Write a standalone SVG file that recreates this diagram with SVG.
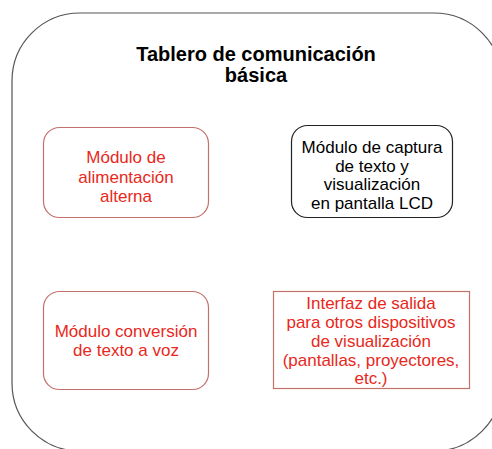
<svg xmlns="http://www.w3.org/2000/svg" width="492" height="449" viewBox="0 0 492 449">
<style>
  .t { font-family: "Liberation Sans", Arial, sans-serif; font-size: 17px; text-anchor: middle; }
  .red { fill: #e8281c; }
  .blk { fill: #000; }
  .title { font-family: "Liberation Sans", Arial, sans-serif; font-size: 20px; font-weight: bold; text-anchor: middle; fill: #000; }
  .rbox { fill: #fff; stroke: #c4716c; stroke-width: 1.2; }
  .kbox { fill: #fff; stroke: #222; stroke-width: 1.2; }
</style>
<rect width="492" height="449" fill="#fff"/>
<g id="board">
  <rect x="12" y="13" width="490" height="438" rx="68" ry="68" fill="none" stroke="#555" stroke-width="1.2"/>
  <text class="title" x="256" y="61">Tablero de comunicación</text>
  <text class="title" x="256" y="82">básica</text>
</g>
<g id="connectors"></g>
<g id="node-alimentacion">
  <rect class="rbox" x="43.5" y="127.5" width="165" height="90" rx="16"/>
  <text class="t red" x="126" y="163">Módulo de</text>
  <text class="t red" x="126" y="183">alimentación</text>
  <text class="t red" x="126" y="202">alterna</text>
</g>
<g id="node-captura">
  <rect class="kbox" x="291.5" y="125.5" width="161" height="92" rx="16"/>
  <text class="t blk" x="372" y="153">Módulo de captura</text>
  <text class="t blk" x="372" y="171.5">de texto y</text>
  <text class="t blk" x="372" y="190">visualización</text>
  <text class="t blk" x="372" y="208.5">en pantalla LCD</text>
</g>
<g id="node-conversion">
  <rect class="rbox" x="43.5" y="291.5" width="165" height="98" rx="16"/>
  <text class="t red" x="126" y="337">Módulo conversión</text>
  <text class="t red" x="126" y="356">de texto a voz</text>
</g>
<g id="node-interfaz">
  <rect class="rbox" x="273.5" y="291.5" width="196" height="97"/>
  <text class="t red" x="371" y="308.5">Interfaz de salida</text>
  <text class="t red" x="371" y="327.5">para otros dispositivos</text>
  <text class="t red" x="371" y="346.5">de visualización</text>
  <text class="t red" x="371" y="365.5">(pantallas, proyectores,</text>
  <text class="t red" x="371" y="384">etc.)</text>
</g>
</svg>
